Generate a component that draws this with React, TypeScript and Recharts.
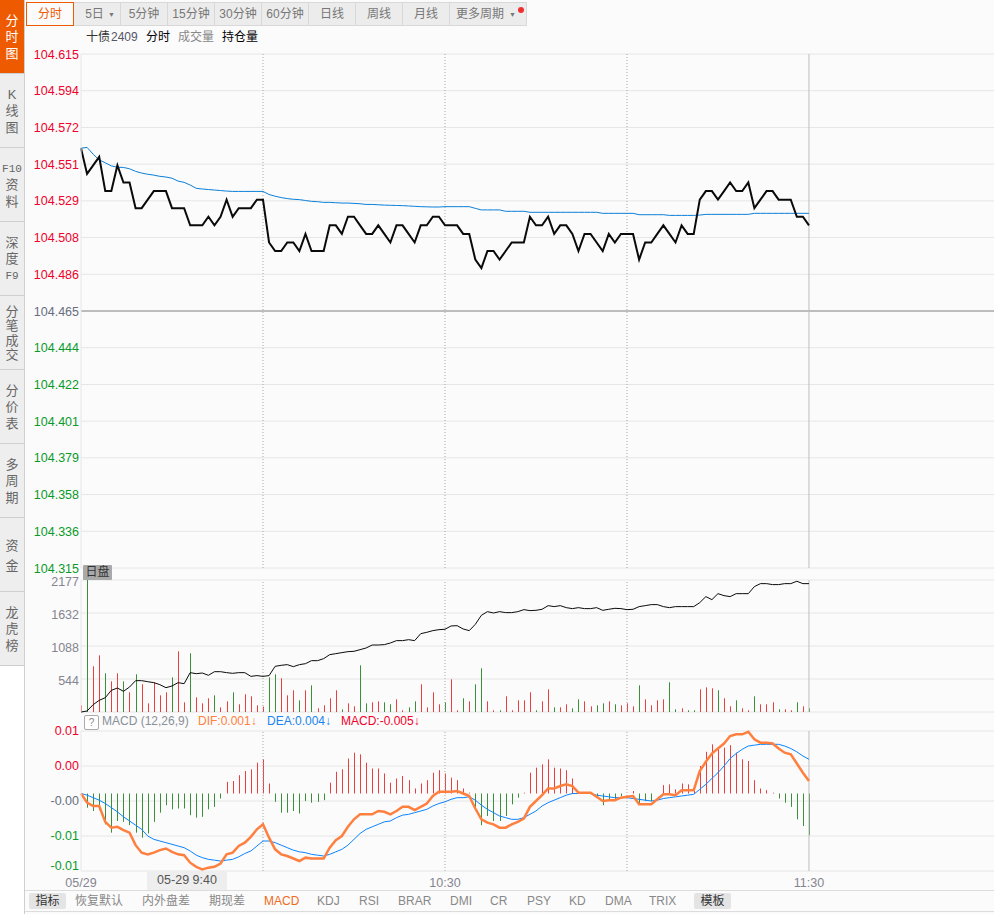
import {
  ComposedChart,
  Line,
  Bar,
  Cell,
  XAxis,
  YAxis,
  CartesianGrid,
  ReferenceLine,
} from 'recharts'

const CJK = '"Liberation Sans", "Noto Sans CJK SC", sans-serif'

// 9:30 = minute 0, one value per minute up to 11:30
const priceValues = [
  104.56, 104.545, 104.55, 104.555, 104.535, 104.535, 104.55, 104.54, 104.54, 104.525,
  104.525, 104.53, 104.535, 104.535, 104.535, 104.525, 104.525, 104.525, 104.515, 104.515,
  104.515, 104.52, 104.515, 104.52, 104.53, 104.52, 104.525, 104.525, 104.525, 104.53,
  104.53, 104.505, 104.5, 104.5, 104.505, 104.505, 104.5, 104.51, 104.5, 104.5,
  104.5, 104.515, 104.515, 104.51, 104.52, 104.52, 104.515, 104.51, 104.51, 104.515,
  104.51, 104.505, 104.515, 104.515, 104.51, 104.505, 104.515, 104.515, 104.52, 104.52,
  104.515, 104.515, 104.515, 104.51, 104.51, 104.495, 104.49, 104.5, 104.5, 104.495,
  104.5, 104.505, 104.505, 104.505, 104.52, 104.515, 104.515, 104.52, 104.51, 104.515,
  104.515, 104.51, 104.5, 104.51, 104.51, 104.505, 104.5, 104.51, 104.505, 104.51,
  104.51, 104.51, 104.495, 104.505, 104.505, 104.51, 104.515, 104.51, 104.505, 104.515,
  104.51, 104.51, 104.53, 104.535, 104.535, 104.53, 104.535, 104.54, 104.535, 104.535,
  104.54, 104.525, 104.53, 104.535, 104.535, 104.53, 104.53, 104.53, 104.52, 104.52,
  104.515,
]

const averageValues = [
  104.56, 104.5605, 104.5565, 104.5532, 104.5515, 104.5497, 104.5489, 104.5488, 104.548, 104.5465,
  104.5455, 104.5448, 104.5443, 104.5436, 104.5432, 104.5425, 104.5408, 104.5401, 104.5385, 104.5366,
  104.5362, 104.5359, 104.5356, 104.5353, 104.535, 104.5348, 104.5348, 104.5348, 104.5348, 104.5348,
  104.5348, 104.533, 104.532, 104.5312, 104.5306, 104.5302, 104.53, 104.5295, 104.529, 104.5288,
  104.5284, 104.5284, 104.5282, 104.528, 104.528, 104.5278, 104.5276, 104.5272, 104.5272, 104.527,
  104.5268, 104.5267, 104.5266, 104.5265, 104.5263, 104.5261, 104.5259, 104.5258, 104.5257, 104.5257,
  104.5259, 104.5259, 104.5259, 104.5259, 104.5259, 104.5249, 104.524, 104.524, 104.524, 104.524,
  104.5232, 104.5232, 104.5232, 104.5232, 104.5226, 104.5226, 104.5226, 104.5226, 104.5226, 104.5226,
  104.5226, 104.5226, 104.5226, 104.5226, 104.5226, 104.5226, 104.522, 104.522, 104.522, 104.522,
  104.522, 104.522, 104.5212, 104.5212, 104.5212, 104.5212, 104.5212, 104.5208, 104.5208, 104.5208,
  104.5208, 104.5208, 104.521, 104.5214, 104.5214, 104.5214, 104.5214, 104.5214, 104.5214, 104.5214,
  104.5214, 104.522, 104.522, 104.522, 104.522, 104.522, 104.522, 104.522, 104.522, 104.522,
  104.522,
]

const volumeValues = [
  110, 2177, 754, 935, 638, 506, 638, 506, 325, 622,
  457, 143, 490, 275, 325, 572, 1001, 160, 968, 242,
  143, 226, 275, 77, 176, 325, 127, 292, 259, 110,
  88, 572, 622, 556, 275, 358, 193, 358, 440, 61,
  110, 226, 358, 44, 143, 94, 770, 143, 160, 176,
  160, 127, 209, 28, 77, 176, 457, 77, 325, 127,
  160, 539, 28, 226, 176, 457, 721, 176, 28, 28,
  259, 28, 193, 193, 325, 28, 176, 374, 77, 77,
  127, 61, 209, 176, 94, 110, 143, 176, 127, 110,
  143, 94, 440, 209, 110, 193, 209, 490, 44, 61,
  28, 28, 374, 407, 391, 358, 226, 94, 193, 61,
  28, 259, 127, 127, 160, 44, 44, 28, 160, 94,
  61,
]

// minutes whose volume bar is green
const volumeFallMinutes = [
  1, 4, 7, 9, 15, 18, 22, 25, 31, 32, 36, 38, 43, 46, 47, 50, 51, 54, 55, 60, 63,
  65, 66, 69, 75, 78, 81, 82, 85, 86, 88, 92, 97, 98, 100, 101, 105, 108, 111, 115, 118, 120,
]

const holdingValues = [
  0, 16, 121, 192, 236, 357, 396, 341, 412, 517,
  517, 500, 484, 451, 401, 429, 484, 467, 649, 632,
  643, 605, 665, 665, 649, 638, 649, 649, 588, 600,
  588, 600, 753, 770, 781, 748, 781, 797, 847, 847,
  880, 946, 962, 979, 995, 1001, 1028, 1056, 1105, 1105,
  1111, 1138, 1177, 1177, 1193, 1177, 1292, 1314, 1342, 1358,
  1364, 1419, 1424, 1369, 1342, 1446, 1595, 1655, 1633, 1655,
  1639, 1639, 1655, 1688, 1672, 1677, 1694, 1754, 1738, 1754,
  1721, 1705, 1721, 1705, 1705, 1721, 1677, 1694, 1710, 1705,
  1688, 1694, 1738, 1754, 1771, 1771, 1738, 1721, 1738, 1738,
  1738, 1738, 1804, 1903, 1853, 1952, 1919, 1903, 1952, 1952,
  1952, 2068, 2117, 2117, 2101, 2101, 2117, 2117, 2156, 2117,
  2117,
]

const difValues = [
  0, -0.0011, -0.0015, -0.0015, -0.0034, -0.0041, -0.004, -0.0044, -0.0047, -0.0062,
  -0.0071, -0.0073, -0.0071, -0.0068, -0.0066, -0.007, -0.0073, -0.0074, -0.0083, -0.0088,
  -0.0091, -0.0089, -0.0088, -0.0084, -0.0073, -0.0071, -0.0063, -0.0059, -0.0052, -0.0043,
  -0.0037, -0.0053, -0.0067, -0.0073, -0.0075, -0.0078, -0.0081, -0.0077, -0.0078, -0.0078,
  -0.0078, -0.0065, -0.0056, -0.0051, -0.004, -0.0031, -0.0025, -0.0025, -0.0025, -0.0021,
  -0.0022, -0.0025, -0.0021, -0.0016, -0.0016, -0.002, -0.0016, -0.0012, -0.0003, 0.0002,
  0.0002, 0.0002, 0.0003, 0, -0.0003, -0.0018, -0.0031, -0.0035, -0.0037, -0.0041,
  -0.0041, -0.0037, -0.0034, -0.003, -0.0016, -0.0009, -0.0002, 0.0006, 0.0006, 0.0009,
  0.0011, 0.0009, 0.0001, 0.0001, 0.0001, -0.0004, -0.0009, -0.0008, -0.0008, -0.0005,
  -0.0004, -0.0003, -0.0013, -0.0013, -0.0013, -0.0007, -0.0001, -0.0001, -0.0002, 0.0004,
  0.0004, 0.0004, 0.0027, 0.0038, 0.0048, 0.0054, 0.006, 0.0069, 0.0071, 0.0071,
  0.0074, 0.0065, 0.0061, 0.0061, 0.006, 0.0054, 0.0049, 0.0047, 0.0036, 0.0025,
  0.0015,
]

const deaValues = [
  0, -0.0002, -0.0005, -0.0008, -0.0012, -0.0017, -0.0022, -0.0028, -0.0033, -0.0038,
  -0.0043, -0.0051, -0.0055, -0.0057, -0.0059, -0.0061, -0.0063, -0.0065, -0.0069, -0.0074,
  -0.0077, -0.0079, -0.008, -0.0081, -0.008, -0.0079, -0.0076, -0.0072, -0.0069, -0.0063,
  -0.0057, -0.0057, -0.0059, -0.0062, -0.0065, -0.0068, -0.007, -0.0071, -0.0073, -0.0074,
  -0.0075, -0.0073, -0.007, -0.0067, -0.0062, -0.0055, -0.0048, -0.0043, -0.004, -0.0037,
  -0.0034, -0.0033, -0.0029, -0.0026, -0.0025, -0.0023, -0.0021, -0.0019, -0.0015, -0.0012,
  -0.001, -0.0007, -0.0005, -0.0005, -0.0004, -0.0008, -0.0014, -0.0019, -0.0023, -0.0027,
  -0.0029, -0.0031, -0.0031, -0.0029, -0.0025, -0.0021, -0.0015, -0.0011, -0.0008, -0.0005,
  -0.0002, 0, 0, 0, 0, -0.0002, -0.0003, -0.0004, -0.0005, -0.0005,
  -0.0005, -0.0006, -0.0007, -0.0008, -0.0009, -0.0008, -0.0006, -0.0005, -0.0004, -0.0003,
  -0.0002, -0.0001, 0.0005, 0.0011, 0.0018, 0.0025, 0.0033, 0.0042, 0.0048, 0.0053,
  0.0057, 0.0058, 0.0059, 0.0059, 0.0059, 0.0059, 0.0057, 0.0054, 0.005, 0.0045,
  0.0041,
]

const macdValues = [
  0, -0.0017, -0.0021, -0.002, -0.0037, -0.0047, -0.0033, -0.0034, -0.0038, -0.0047,
  -0.0053, -0.0048, -0.0034, -0.0023, -0.0014, -0.0019, -0.0018, -0.0018, -0.0026, -0.0029,
  -0.0028, -0.0019, -0.0016, -0.0006, 0.0014, 0.0015, 0.0022, 0.0027, 0.0029, 0.0037,
  0.0041, 0.0012, -0.001, -0.0023, -0.0023, -0.0021, -0.0024, -0.0009, -0.0011, -0.001,
  -0.0008, 0.0013, 0.0026, 0.0029, 0.0042, 0.0049, 0.0047, 0.0037, 0.003, 0.003,
  0.0024, 0.0013, 0.0018, 0.0021, 0.0016, 0.0006, 0.0012, 0.0016, 0.0025, 0.0028,
  0.0024, 0.0019, 0.0016, 0.0006, 0.0001, -0.0019, -0.0038, -0.0027, -0.0033, -0.0033,
  -0.0027, -0.0013, -0.0005, 0.0001, 0.0025, 0.0031, 0.0035, 0.0041, 0.0031, 0.003,
  0.0028, 0.0018, 0, 0, 0, -0.0005, -0.0014, -0.0007, -0.0007, -0.0003,
  0, 0.0003, -0.0013, -0.0009, -0.0009, 0, 0.001, 0.0011, 0.0005, 0.0012,
  0.0011, 0.001, 0.0033, 0.005, 0.0059, 0.0055, 0.0055, 0.0058, 0.0049, 0.0041,
  0.0039, 0.0016, 0.0006, 0.0004, 0.0001, -0.0006, -0.0011, -0.0016, -0.0031, -0.0039,
  -0.005,
]

const priceTicks = [
  104.615, 104.5936, 104.5721, 104.5507, 104.5293, 104.5079, 104.4864, 104.465,
  104.4436, 104.4221, 104.4007, 104.3793, 104.3579, 104.3364, 104.315,
]
const basePrice = 104.465
const volumeTicks = [0, 544, 1088, 1632, 2177]
const macdTicks = [0.0075, 0.0033, -0.0009, -0.0051, -0.0093]
const timeTicks = [0, 60, 120]
const timeLabels = ['05/29', '10:30', '11:30']
const halfHours = [30, 60, 90]
const closeMinute = 120
const sessionEnd = 150.5

const sideTabs = [
  ['分', '时', '图'],
  ['K', '线', '图'],
  ['F10', '资', '料'],
  ['深', '度', 'F9'],
  ['分', '笔', '成', '交'],
  ['分', '价', '表'],
  ['多', '周', '期'],
  ['资', '金'],
  ['龙', '虎', '榜'],
]
const periodTabs = ['分时', '5日', '5分钟', '15分钟', '30分钟', '60分钟', '日线', '周线', '月线', '更多周期']
const indicatorTabs = [
  ['恢复默认', 75], ['内外盘差', 142], ['期现差', 209], ['MACD', 264], ['KDJ', 317], ['RSI', 359],
  ['BRAR', 398], ['DMI', 450], ['CR', 490], ['PSY', 527], ['KD', 569], ['DMA', 605], ['TRIX', 649],
] as const

const data = priceValues.map((price, i) => ({
  minute: i,
  price,
  average: averageValues[i],
  volume: volumeValues[i],
  holding: holdingValues[i],
  dif: difValues[i],
  dea: deaValues[i],
  macd: macdValues[i],
}))

const RED = '#e8403f'
const GREEN = '#3a8f38'
const GRID = '#e6e6e6'

// 1px 宽的柱子，对齐到整像素
function ThinBar({ x, y, height, fill }: any) {
  if (!height) return null
  return <rect x={Math.round(x)} y={Math.min(y, y + height)} width={1} height={Math.abs(height)} fill={fill} />
}

function PriceTick({ y, payload }: any) {
  const v = payload.value
  const color = v > basePrice + 0.001 ? '#f0002a' : v < basePrice - 0.001 ? '#0a9a2a' : '#666e80'
  return (
    <text x={79} y={y + 4.5} textAnchor="end" fontSize={12.5} fontFamily={CJK} fill={color}>
      {v.toFixed(3)}
    </text>
  )
}

function VolumeTick({ y, payload }: any) {
  if (payload.value === 0) return null
  return (
    <text x={79} y={y + 6} textAnchor="end" fontSize={12.5} fontFamily={CJK} fill="#85858f">
      {payload.value}
    </text>
  )
}

function MacdTick({ y, payload }: any) {
  const v = payload.value
  const label = v.toFixed(2)
  const color = v > 0 ? '#f0002a' : label === '-0.00' ? '#666e80' : '#0a9a2a'
  const shift = v === macdTicks[macdTicks.length - 1] ? -1 : 4
  return (
    <text x={79} y={y + shift} textAnchor="end" fontSize={12.5} fontFamily={CJK} fill={color}>
      {label}
    </text>
  )
}

function TimeTick({ x, y, payload }: any) {
  return (
    <text x={x} y={y + 8} textAnchor="middle" fontSize={12.5} fontFamily={CJK} fill="#85858f">
      {timeLabels[timeTicks.indexOf(payload.value)]}
    </text>
  )
}

function toolText(text: string, left: number, color: string) {
  return (
    <span key={text + left} style={{ position: 'absolute', left, top: 29, fontSize: 12, lineHeight: '16px', color, whiteSpace: 'nowrap' }}>
      {text}
    </span>
  )
}

const sideLineHeight = (count: number) => (count === 2 ? '20px' : count === 4 ? '14.3px' : '16.5px')

export default function App() {
  const halfHourLines = halfHours.map((m) => (
    <ReferenceLine key={m} x={m} stroke="#a8a8a8" strokeDasharray="1 2" />
  ))
  const closeLine = <ReferenceLine x={closeMinute} stroke="#bdbdbd" strokeWidth={1} />

  return (
    <div style={{ position: 'absolute', left: 0, top: 0, width: 994, height: 914, overflow: 'hidden', background: '#fbfbfb', fontFamily: CJK }}>
      {/* 左侧竖排标签 */}
      <div style={{ position: 'absolute', left: 0, top: 666, width: 24, height: 248, background: '#fff' }} />
      <div style={{ position: 'absolute', left: 24, top: 0, width: 1, height: 914, background: '#cfcfcf' }} />
      {sideTabs.map((chars, i) => (
        <div
          key={i}
          style={{
            position: 'absolute', left: 0, top: i * 74, width: 24, height: 73,
            background: i === 0 ? '#ee5a00' : '#eeeeee',
            borderBottom: '1px solid #cfcfcf',
            color: i === 0 ? '#fff' : '#666',
            fontSize: 13, lineHeight: sideLineHeight(chars.length), textAlign: 'center',
            display: 'flex', flexDirection: 'column', justifyContent: 'center',
            paddingTop: 2, boxSizing: 'content-box', height: 71,
          }}
        >
          {chars.map((c, j) => (
            <div key={j} style={c.length > 1 ? { fontFamily: '"Liberation Mono"', fontSize: 11 } : undefined}>{c}</div>
          ))}
        </div>
      ))}

      {/* 周期按钮 */}
      {periodTabs.map((label, i) => {
        const left = 26 + i * 47
        const width = i === 9 ? 77 : 47
        return (
          <div
            key={label}
            style={{
              position: 'absolute', left, top: 2, width: width - 1, height: 22,
              background: i === 0 ? '#fbfbfb' : '#ececec',
              border: i === 0 ? '1px solid #ee5a00' : '1px solid #d8d8d8',
              color: i === 0 ? '#ee5a00' : '#777', fontSize: 12, lineHeight: '23px',
              textAlign: i === 9 ? 'left' : 'center', zIndex: i === 0 ? 2 : 1,
              paddingLeft: i === 9 ? 6 : 0, boxSizing: 'content-box',
              ...(i === 9 ? { width: 70 } : {}),
            }}
          >
            <span style={i === 1 ? { marginRight: 5 } : undefined}>{label}</span>
            {(i === 1 || i === 9) && (
              <span style={{ position: 'absolute', right: i === 1 ? 5 : 10, top: 0, fontSize: 7, color: '#777' }}>▼</span>
            )}
          </div>
        )
      })}
      <div style={{ position: 'absolute', left: 518, top: 7, width: 6, height: 6, borderRadius: 3, background: '#f03030', zIndex: 3 }} />

      {toolText('十债', 86, '#333')}
      {toolText('2409', 111, '#556')}
      {toolText('分时', 146, '#000')}
      {toolText('成交量', 178, '#888')}
      {toolText('持仓量', 222, '#000')}

      {/* 分时 */}
      <div style={{ position: 'absolute', left: 0, top: 0 }}>
        <ComposedChart width={994} height={576} data={data} margin={{ top: 54, right: 0, bottom: 8, left: 0 }}>
          <CartesianGrid vertical={false} stroke={GRID} />
          <XAxis dataKey="minute" type="number" domain={[0, sessionEnd]} hide />
          <YAxis
            domain={[104.315, 104.615]}
            ticks={priceTicks}
            interval={0}
            width={81}
            tick={<PriceTick />}
            tickLine={false}
            axisLine={{ stroke: GRID }}
            allowDataOverflow
          />
          {halfHourLines}
          {closeLine}
          <ReferenceLine y={basePrice} stroke="#bcbcbc" strokeWidth={2} />
          <Line dataKey="average" stroke="#0a7fd8" strokeWidth={1} dot={false} isAnimationActive={false} />
          <Line dataKey="price" stroke="#0a0a0a" strokeWidth={2} dot={false} isAnimationActive={false} />
        </ComposedChart>
      </div>

      {/* 成交量 */}
      <div style={{ position: 'absolute', left: 0, top: 570 }}>
        <ComposedChart width={994} height={150} data={data} margin={{ top: 10, right: 0, bottom: 8, left: 0 }}>
          <CartesianGrid vertical={false} stroke={GRID} />
          <XAxis dataKey="minute" type="number" domain={[0, sessionEnd]} hide />
          <YAxis
            domain={[0, 2177]}
            ticks={volumeTicks}
            interval={0}
            width={81}
            tick={<VolumeTick />}
            tickLine={false}
            axisLine={{ stroke: GRID }}
          />
          {halfHourLines}
          {closeLine}
          <Bar dataKey="volume" barSize={1} shape={<ThinBar />} isAnimationActive={false}>
            {data.map((d) => (
              <Cell key={d.minute} fill={volumeFallMinutes.includes(d.minute) ? GREEN : RED} />
            ))}
          </Bar>
          <Line dataKey="holding" stroke="#0a0a0a" strokeWidth={1} dot={false} isAnimationActive={false} />
        </ComposedChart>
      </div>

      <div style={{ position: 'absolute', left: 83, top: 565, width: 29, height: 15, background: '#a9a9a9', color: '#333', fontSize: 12, lineHeight: '15px', textAlign: 'center', borderRadius: 1 }}>日盘</div>

      {/* MACD 标题 */}
      <div style={{ position: 'absolute', left: 84, top: 715, width: 13, height: 13, border: '1px solid #aaa', borderRadius: 2, color: '#888', fontSize: 10, lineHeight: '13px', textAlign: 'center', background: '#fff' }}>?</div>
      {[
        ['MACD (12,26,9)', 102, '#8a8f99'],
        ['DIF:0.001↓', 198, '#ff8040'],
        ['DEA:0.004↓', 267, '#1a84f0'],
        ['MACD:-0.005↓', 341, '#f0002a'],
      ].map(([text, left, color]) => (
        <span key={text as string} style={{ position: 'absolute', left: left as number, top: 714, fontSize: 12, lineHeight: '15px', color: color as string, whiteSpace: 'nowrap' }}>
          {text}
        </span>
      ))}

      {/* MACD */}
      <div style={{ position: 'absolute', left: 0, top: 722 }}>
        <ComposedChart width={994} height={168} data={data} margin={{ top: 9, right: 0, bottom: 0, left: 0 }}>
          <CartesianGrid vertical={false} stroke={GRID} />
          <XAxis
            dataKey="minute"
            type="number"
            domain={[0, sessionEnd]}
            ticks={timeTicks}
            height={19}
            interval={0}
            tick={<TimeTick />}
            tickLine={false}
            axisLine={false}
          />
          <YAxis
            domain={[-0.0093, 0.0075]}
            ticks={macdTicks}
            interval={0}
            width={81}
            tick={<MacdTick />}
            tickLine={false}
            axisLine={{ stroke: GRID }}
          />
          {halfHourLines}
          {closeLine}
          <Bar dataKey="macd" barSize={1} shape={<ThinBar />} isAnimationActive={false}>
            {data.map((d) => (
              <Cell key={d.minute} fill={d.macd >= 0 ? RED : GREEN} />
            ))}
          </Bar>
          <Line dataKey="dea" stroke="#0a84ff" strokeWidth={1} dot={false} isAnimationActive={false} />
          <Line dataKey="dif" stroke="#ff7f3f" strokeWidth={2.5} dot={false} isAnimationActive={false} />
        </ComposedChart>
      </div>

      <div style={{ position: 'absolute', left: 147, top: 871, width: 80, height: 19, background: '#eeeeee', color: '#555', fontSize: 12.5, lineHeight: '19px', textAlign: 'center' }}>05-29 9:40</div>

      {/* 底部指标栏 */}
      <div style={{ position: 'absolute', left: 25, top: 890, width: 969, height: 1, background: '#dcdcdc' }} />
      <div style={{ position: 'absolute', left: 25, top: 911, width: 969, height: 1, background: '#dcdcdc' }} />
      <div style={{ position: 'absolute', left: 29, top: 893, width: 37, height: 16, background: '#e4e4e4', color: '#333', fontSize: 12, lineHeight: '16px', textAlign: 'center', borderRadius: 2 }}>指标</div>
      <div style={{ position: 'absolute', left: 694, top: 893, width: 37, height: 16, background: '#e4e4e4', color: '#333', fontSize: 12, lineHeight: '16px', textAlign: 'center', borderRadius: 2 }}>模板</div>
      {indicatorTabs.map(([label, left]) => (
        <span key={label} style={{ position: 'absolute', left, top: 893, fontSize: 12, lineHeight: '16px', color: label === 'MACD' ? '#f06a20' : '#888', whiteSpace: 'nowrap' }}>
          {label}
        </span>
      ))}
    </div>
  )
}
